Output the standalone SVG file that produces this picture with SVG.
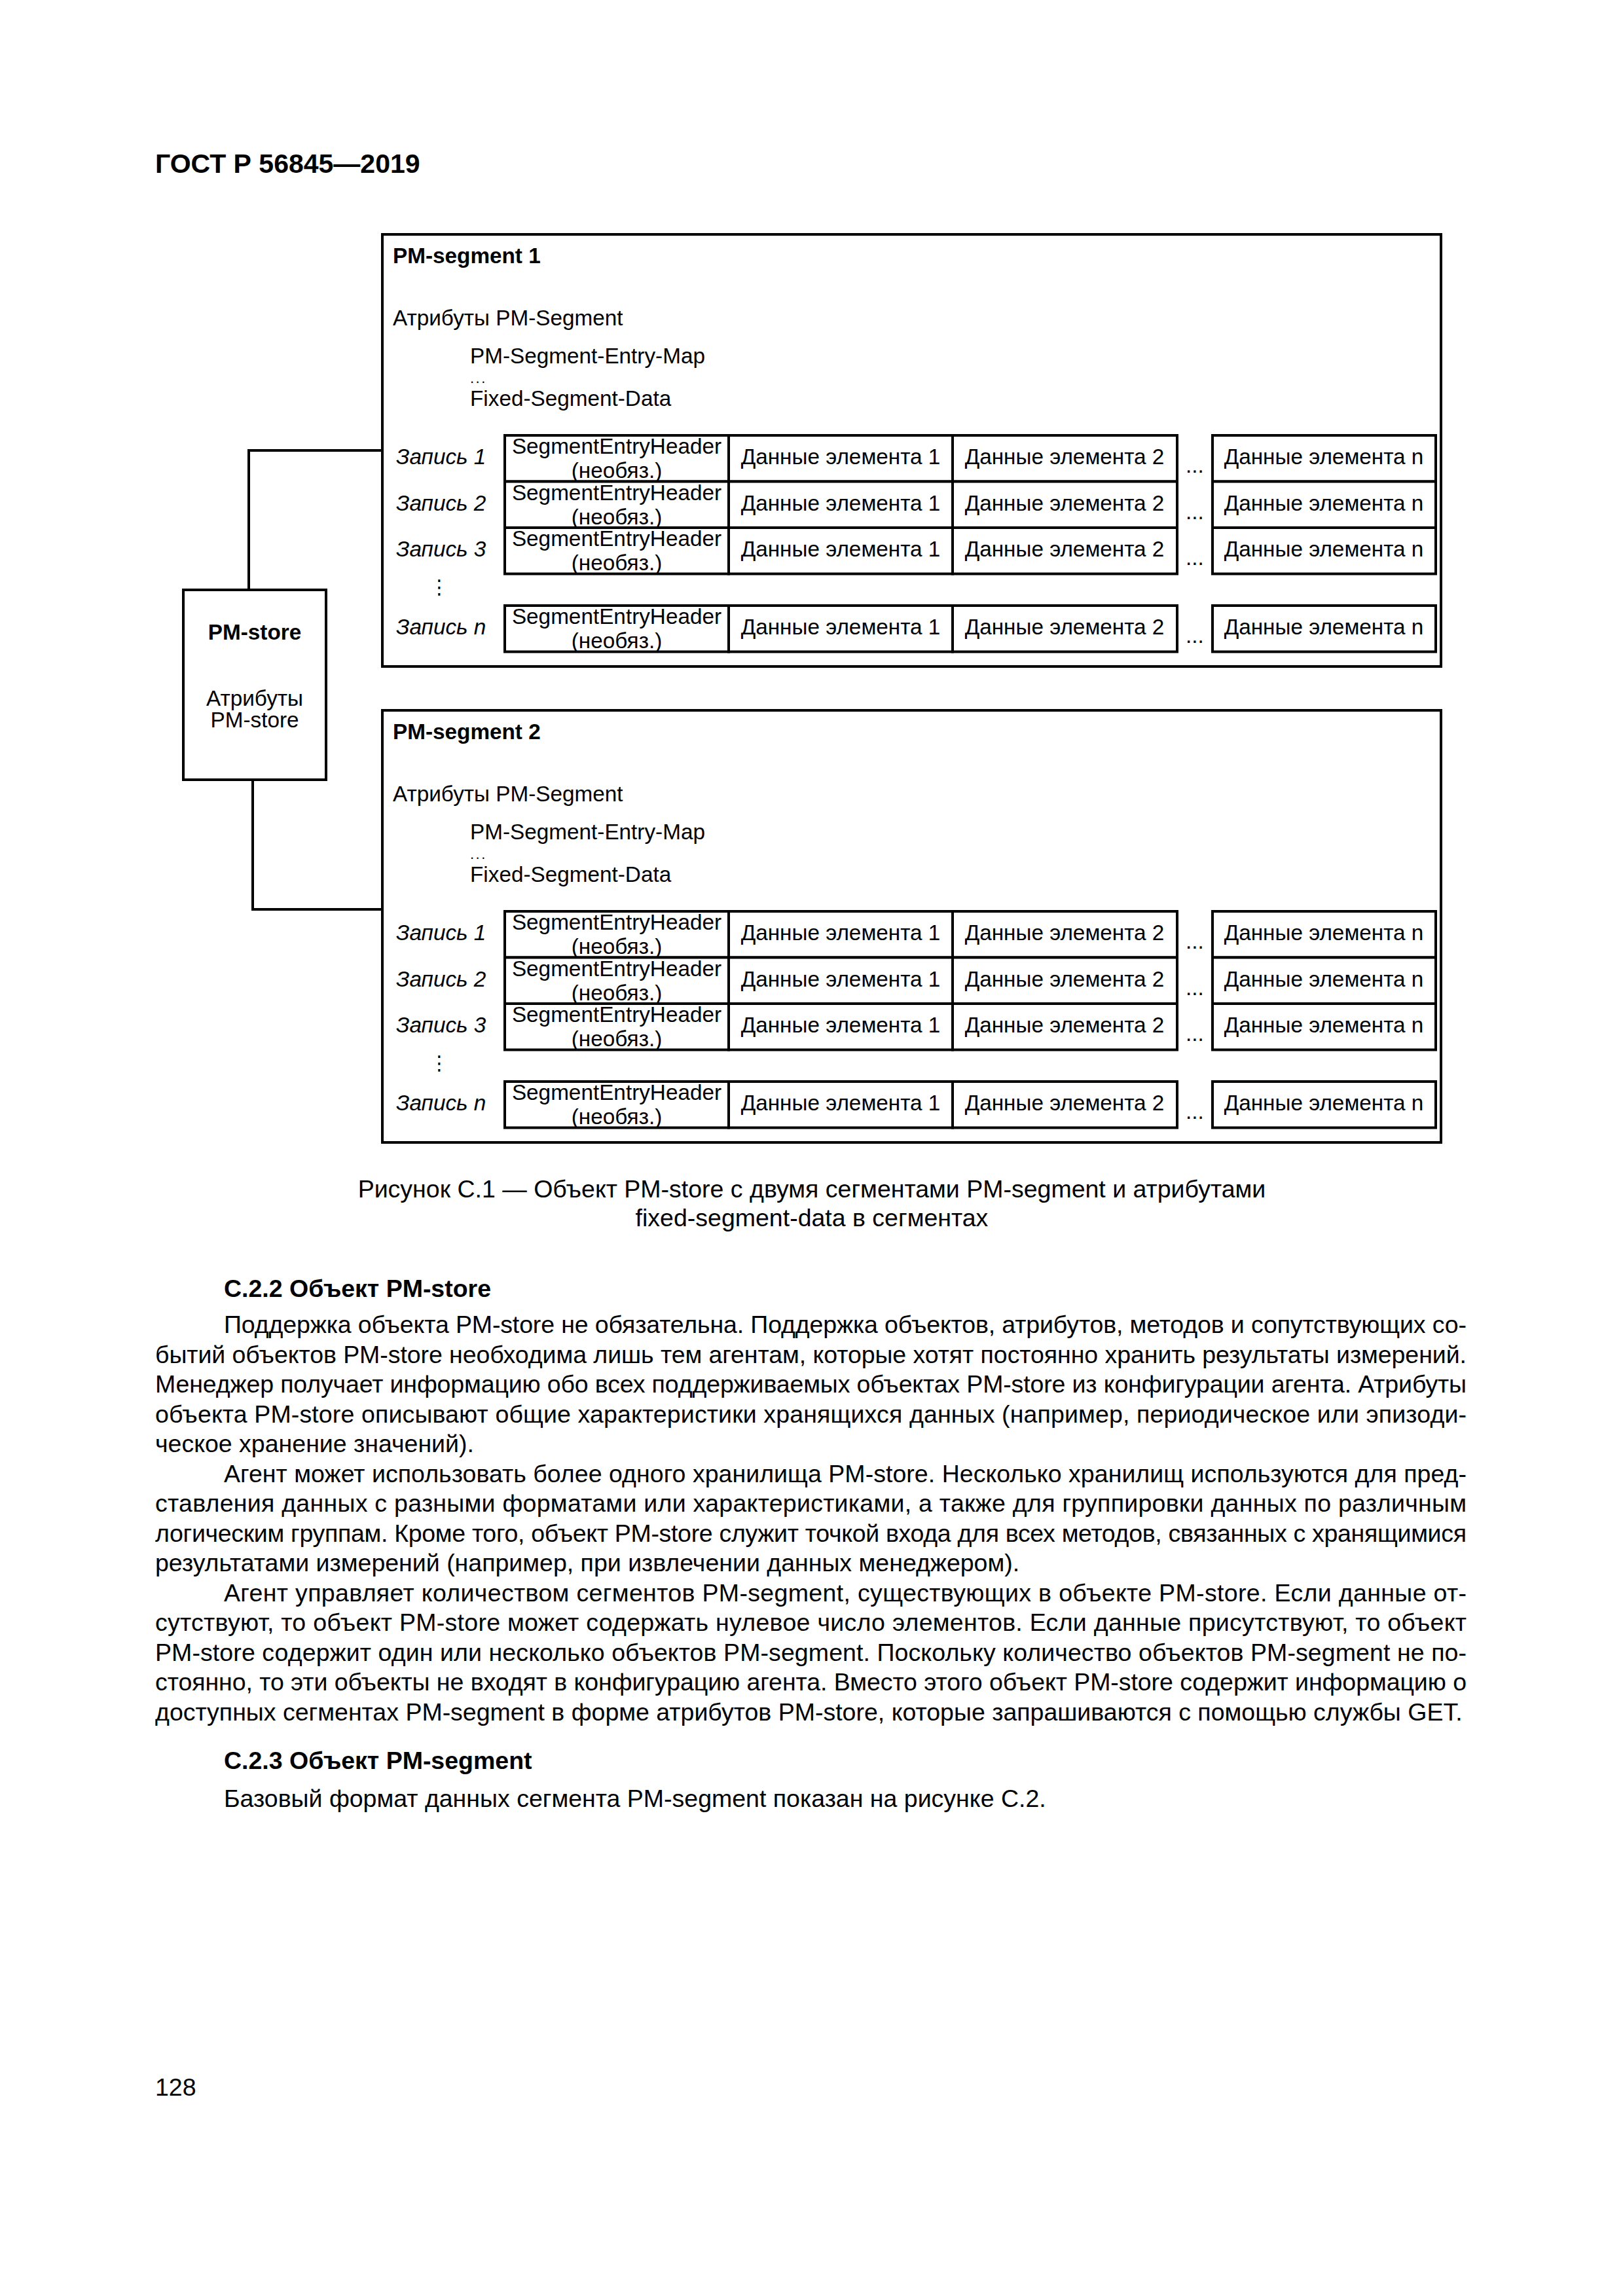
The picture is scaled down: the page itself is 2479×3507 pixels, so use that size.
<svg xmlns="http://www.w3.org/2000/svg" width="2479" height="3507" viewBox="0 0 2479 3507">
<style>
.bg{fill:#fff}
.box{fill:none;stroke:#000;stroke-width:4}
.cell{fill:#fff;stroke:#000;stroke-width:4}
.conn{fill:none;stroke:#000;stroke-width:4}
text{font-family:"Liberation Sans",Arial,"Noto Sans CJK SC",sans-serif;fill:#000}
.d{font-size:33.3px}
.b{font-weight:bold}
.i{font-style:italic}
.c{text-anchor:middle}
.p{font-size:37.5px}
.h{font-size:41px;font-weight:bold}
.el{font-size:22px;letter-spacing:2.5px}
.vd{font-family:"DejaVu Sans",sans-serif;font-size:30px;text-anchor:middle}
</style>
<rect class="bg" x="0" y="0" width="2479" height="3507"/>
<text class="h" x="237" y="264">ГОСТ Р 56845—2019</text>

<g id="connectors">
<polyline class="conn" points="380,901 380,688 584,688"/>
<polyline class="conn" points="386,1191 386,1389 584,1389"/>
</g>

<g id="pm-store">
<rect class="box" x="280" y="901" width="218" height="290"/>
<text class="d b c" x="389" y="977">PM-store</text>
<text class="d c" x="389" y="1078">Атрибуты</text>
<text class="d c" x="389" y="1111">PM-store</text>
</g>

<g id="pm-segment-1">
<rect class="box" x="584" y="358" width="1617" height="660"/>
<text class="d b" x="600" y="402">PM-segment 1</text>
<text class="d" x="600" y="497">Атрибуты PM-Segment</text>
<text class="d" x="718" y="555">PM-Segment-Entry-Map</text>
<text class="el" x="718" y="585">...</text>
<text class="d" x="718" y="620">Fixed-Segment-Data</text>
<g id="seg1-row1">
<text class="d i" x="605" y="709">Запись 1</text>
<rect class="cell" x="771" y="665" width="342" height="70.5"/>
<rect class="cell" x="1113" y="665" width="342" height="70.5"/>
<rect class="cell" x="1455" y="665" width="343" height="70.5"/>
<rect class="cell" x="1852" y="665" width="341" height="70.5"/>
<text class="d c" x="942" y="693">SegmentEntryHeader</text>
<text class="d c" x="942" y="730">(необяз.)</text>
<text class="d c" x="1284" y="709">Данные элемента 1</text>
<text class="d c" x="1626" y="709">Данные элемента 2</text>
<text class="d c" x="1825" y="722">...</text>
<text class="d c" x="2022" y="709">Данные элемента n</text>
</g>
<g id="seg1-row2">
<text class="d i" x="605" y="779.5">Запись 2</text>
<rect class="cell" x="771" y="735.5" width="342" height="70.5"/>
<rect class="cell" x="1113" y="735.5" width="342" height="70.5"/>
<rect class="cell" x="1455" y="735.5" width="343" height="70.5"/>
<rect class="cell" x="1852" y="735.5" width="341" height="70.5"/>
<text class="d c" x="942" y="763.5">SegmentEntryHeader</text>
<text class="d c" x="942" y="800.5">(необяз.)</text>
<text class="d c" x="1284" y="779.5">Данные элемента 1</text>
<text class="d c" x="1626" y="779.5">Данные элемента 2</text>
<text class="d c" x="1825" y="792.5">...</text>
<text class="d c" x="2022" y="779.5">Данные элемента n</text>
</g>
<g id="seg1-row3">
<text class="d i" x="605" y="850">Запись 3</text>
<rect class="cell" x="771" y="806" width="342" height="70.5"/>
<rect class="cell" x="1113" y="806" width="342" height="70.5"/>
<rect class="cell" x="1455" y="806" width="343" height="70.5"/>
<rect class="cell" x="1852" y="806" width="341" height="70.5"/>
<text class="d c" x="942" y="834">SegmentEntryHeader</text>
<text class="d c" x="942" y="871">(необяз.)</text>
<text class="d c" x="1284" y="850">Данные элемента 1</text>
<text class="d c" x="1626" y="850">Данные элемента 2</text>
<text class="d c" x="1825" y="863">...</text>
<text class="d c" x="2022" y="850">Данные элемента n</text>
</g>
<text class="vd" x="671" y="907">⋮</text>
<g id="seg1-rown">
<text class="d i" x="605" y="969">Запись n</text>
<rect class="cell" x="771" y="925" width="342" height="70.5"/>
<rect class="cell" x="1113" y="925" width="342" height="70.5"/>
<rect class="cell" x="1455" y="925" width="343" height="70.5"/>
<rect class="cell" x="1852" y="925" width="341" height="70.5"/>
<text class="d c" x="942" y="953">SegmentEntryHeader</text>
<text class="d c" x="942" y="990">(необяз.)</text>
<text class="d c" x="1284" y="969">Данные элемента 1</text>
<text class="d c" x="1626" y="969">Данные элемента 2</text>
<text class="d c" x="1825" y="982">...</text>
<text class="d c" x="2022" y="969">Данные элемента n</text>
</g>
</g>

<g id="pm-segment-2">
<rect class="box" x="584" y="1085" width="1617" height="660"/>
<text class="d b" x="600" y="1129">PM-segment 2</text>
<text class="d" x="600" y="1224">Атрибуты PM-Segment</text>
<text class="d" x="718" y="1282">PM-Segment-Entry-Map</text>
<text class="el" x="718" y="1312">...</text>
<text class="d" x="718" y="1347">Fixed-Segment-Data</text>
<g id="seg2-row1">
<text class="d i" x="605" y="1436">Запись 1</text>
<rect class="cell" x="771" y="1392" width="342" height="70.5"/>
<rect class="cell" x="1113" y="1392" width="342" height="70.5"/>
<rect class="cell" x="1455" y="1392" width="343" height="70.5"/>
<rect class="cell" x="1852" y="1392" width="341" height="70.5"/>
<text class="d c" x="942" y="1420">SegmentEntryHeader</text>
<text class="d c" x="942" y="1457">(необяз.)</text>
<text class="d c" x="1284" y="1436">Данные элемента 1</text>
<text class="d c" x="1626" y="1436">Данные элемента 2</text>
<text class="d c" x="1825" y="1449">...</text>
<text class="d c" x="2022" y="1436">Данные элемента n</text>
</g>
<g id="seg2-row2">
<text class="d i" x="605" y="1506.5">Запись 2</text>
<rect class="cell" x="771" y="1462.5" width="342" height="70.5"/>
<rect class="cell" x="1113" y="1462.5" width="342" height="70.5"/>
<rect class="cell" x="1455" y="1462.5" width="343" height="70.5"/>
<rect class="cell" x="1852" y="1462.5" width="341" height="70.5"/>
<text class="d c" x="942" y="1490.5">SegmentEntryHeader</text>
<text class="d c" x="942" y="1527.5">(необяз.)</text>
<text class="d c" x="1284" y="1506.5">Данные элемента 1</text>
<text class="d c" x="1626" y="1506.5">Данные элемента 2</text>
<text class="d c" x="1825" y="1519.5">...</text>
<text class="d c" x="2022" y="1506.5">Данные элемента n</text>
</g>
<g id="seg2-row3">
<text class="d i" x="605" y="1577">Запись 3</text>
<rect class="cell" x="771" y="1533" width="342" height="70.5"/>
<rect class="cell" x="1113" y="1533" width="342" height="70.5"/>
<rect class="cell" x="1455" y="1533" width="343" height="70.5"/>
<rect class="cell" x="1852" y="1533" width="341" height="70.5"/>
<text class="d c" x="942" y="1561">SegmentEntryHeader</text>
<text class="d c" x="942" y="1598">(необяз.)</text>
<text class="d c" x="1284" y="1577">Данные элемента 1</text>
<text class="d c" x="1626" y="1577">Данные элемента 2</text>
<text class="d c" x="1825" y="1590">...</text>
<text class="d c" x="2022" y="1577">Данные элемента n</text>
</g>
<text class="vd" x="671" y="1634">⋮</text>
<g id="seg2-rown">
<text class="d i" x="605" y="1696">Запись n</text>
<rect class="cell" x="771" y="1652" width="342" height="70.5"/>
<rect class="cell" x="1113" y="1652" width="342" height="70.5"/>
<rect class="cell" x="1455" y="1652" width="343" height="70.5"/>
<rect class="cell" x="1852" y="1652" width="341" height="70.5"/>
<text class="d c" x="942" y="1680">SegmentEntryHeader</text>
<text class="d c" x="942" y="1717">(необяз.)</text>
<text class="d c" x="1284" y="1696">Данные элемента 1</text>
<text class="d c" x="1626" y="1696">Данные элемента 2</text>
<text class="d c" x="1825" y="1709">...</text>
<text class="d c" x="2022" y="1696">Данные элемента n</text>
</g>
</g>

<g id="caption">
<text class="p c" x="1240" y="1829">Рисунок С.1 — Объект PM-store с двумя сегментами PM-segment и атрибутами</text>
<text class="p c" x="1240" y="1873">fixed-segment-data в сегментах</text>
</g>

<g id="body-text">
<text class="p b" x="342" y="1981">С.2.2 Объект PM-store</text>
<text class="p" x="342" y="2036" textLength="1898" lengthAdjust="spacing">Поддержка объекта PM-store не обязательна. Поддержка объектов, атрибутов, методов и сопутствующих со-</text>
<text class="p" x="237" y="2081.5" textLength="2003" lengthAdjust="spacing">бытий объектов PM-store необходима лишь тем агентам, которые хотят постоянно хранить результаты измерений.</text>
<text class="p" x="237" y="2127" textLength="2003" lengthAdjust="spacing">Менеджер получает информацию обо всех поддерживаемых объектах PM-store из конфигурации агента. Атрибуты</text>
<text class="p" x="237" y="2172.5" textLength="2003" lengthAdjust="spacing">объекта PM-store описывают общие характеристики хранящихся данных (например, периодическое или эпизоди-</text>
<text class="p" x="237" y="2218">ческое хранение значений).</text>
<text class="p" x="342" y="2263.5" textLength="1898" lengthAdjust="spacing">Агент может использовать более одного хранилища PM-store. Несколько хранилищ используются для пред-</text>
<text class="p" x="237" y="2309" textLength="2003" lengthAdjust="spacing">ставления данных с разными форматами или характеристиками, а также для группировки данных по различным</text>
<text class="p" x="237" y="2354.5" textLength="2003" lengthAdjust="spacing">логическим группам. Кроме того, объект PM-store служит точкой входа для всех методов, связанных с хранящимися</text>
<text class="p" x="237" y="2400">результатами измерений (например, при извлечении данных менеджером).</text>
<text class="p" x="342" y="2445.5" textLength="1898" lengthAdjust="spacing">Агент управляет количеством сегментов PM-segment, существующих в объекте PM-store. Если данные от-</text>
<text class="p" x="237" y="2491" textLength="2003" lengthAdjust="spacing">сутствуют, то объект PM-store может содержать нулевое число элементов. Если данные присутствуют, то объект</text>
<text class="p" x="237" y="2536.5" textLength="2003" lengthAdjust="spacing">PM-store содержит один или несколько объектов PM-segment. Поскольку количество объектов PM-segment не по-</text>
<text class="p" x="237" y="2582" textLength="2003" lengthAdjust="spacing">стоянно, то эти объекты не входят в конфигурацию агента. Вместо этого объект PM-store содержит информацию о</text>
<text class="p" x="237" y="2627.5">доступных сегментах PM-segment в форме атрибутов PM-store, которые запрашиваются с помощью службы GET.</text>
<text class="p b" x="342" y="2702">С.2.3 Объект PM-segment</text>
<text class="p" x="342" y="2760">Базовый формат данных сегмента PM-segment показан на рисунке С.2.</text>
</g>
<text class="p" x="237" y="3201">128</text>
</svg>
